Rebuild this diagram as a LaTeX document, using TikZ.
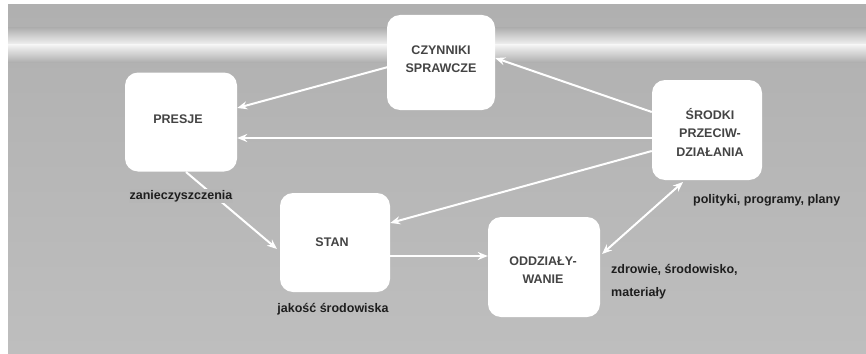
\documentclass[tikz,border=0pt]{standalone}
\usepackage{fontspec}
\setmainfont{Liberation Sans}
\usetikzlibrary{arrows.meta}
\definecolor{bgA}{HTML}{B0B0B0}
\definecolor{bgB}{HTML}{BEBEBE}
\definecolor{txtbox}{HTML}{444444}
\definecolor{txtlab}{HTML}{1E1E1E}
\begin{document}
\begin{tikzpicture}[x=1pt,y=-1pt,
  box/.style={draw=none,fill=white,rounded corners=13pt,inner sep=0pt},
  boxtext/.style={text=txtbox,font=\fontsize{12.5}{18}\selectfont\bfseries,align=center,inner sep=0pt},
  lab/.style={text=txtlab,font=\fontsize{12.5}{14}\selectfont\bfseries,inner sep=1pt},
  arr/.style={draw=white,line width=2pt,-{Stealth[length=10pt,width=8pt]}},
  darr/.style={draw=white,line width=2pt,{Stealth[length=10pt,width=8pt]}-{Stealth[length=10pt,width=8pt]}}]
\useasboundingbox (0,0) rectangle (866,353);
\fill[white] (0,0) rectangle (866,353);
\shade[top color=bgA,bottom color=bgB] (8,5) rectangle (866,353);
% light band
\shade[top color=bgA,bottom color=white!85!bgA] (8,28) rectangle (866,45);
\shade[top color=white!85!bgA,bottom color=bgA] (8,45) rectangle (866,62);
% boxes
\node[box,minimum width=108pt,minimum height=95pt] (czy) at (441,62.5) {};
\node[boxtext] (czyT) at (441,59) {CZYNNIKI\\SPRAWCZE};
\node[box,minimum width=112pt,minimum height=99pt] (pre) at (181,122) {};
\node[boxtext] (preT) at (178,119) {PRESJE};
\node[box,minimum width=110pt,minimum height=99pt] (sta) at (335,242.5) {};
\node[boxtext] (staT) at (332,242) {STAN};
\node[box,minimum width=112pt,minimum height=100pt] (odd) at (544,267) {};
\node[boxtext] (oddT) at (543,270) {ODDZIAŁY-\\WANIE};
\node[box,minimum width=110pt,minimum height=100pt] (sro) at (707,130) {};
\node[boxtext,font=\fontsize{12.5}{18.5}\selectfont\bfseries] (sroT) at (710,132) {ŚRODKI\\PRZECIW-\\DZIAŁANIA};
% connectors
\coordinate (czyL) at (388,67);
\draw[arr] (czyL) -- (pre.east |- 0,108);
\draw[arr] (sro.west |- 0,112) -- (czy.east |- 0,58);
\draw[arr] (sro.west |- 0,138) -- (pre.east |- 0,138);
\draw[arr] (sro.west |- 0,151) -- (sta.east |- 0,223);
\draw[arr] (sta.east |- 0,256) -- (odd.west |- 0,256);
\draw[darr] (683,182) -- (602,254);
\draw[arr] (186,172) -- (277,249);
% labels
\node[lab,fill=bgA!55!bgB] (l1) at (181,196) {zanieczyszczenia};
\node[lab,anchor=west] (l2) at (692,200) {polityki, programy, plany};
\node[lab] (l3) at (333,309) {jakość środowiska};
\node[lab,anchor=west,align=left,font=\fontsize{12.5}{23}\selectfont\bfseries] (l4) at (610,282) {zdrowie, środowisko,\\materiały};
\end{tikzpicture}
\end{document}
